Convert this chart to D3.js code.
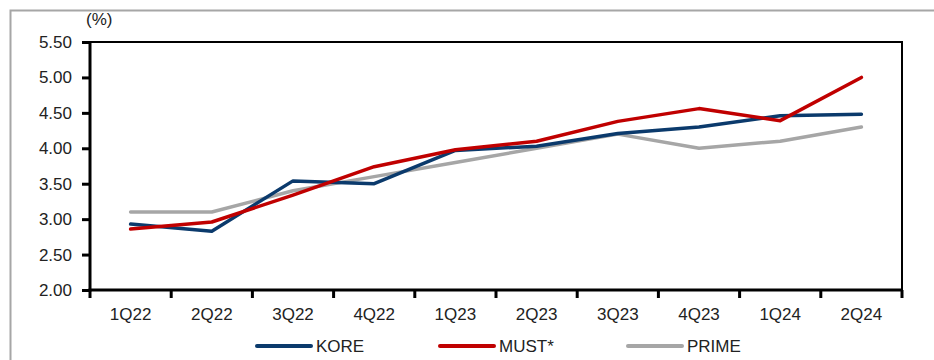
<!DOCTYPE html>
<html>
<head>
<meta charset="utf-8">
<script src="https://cdn.jsdelivr.net/npm/d3@7"></script>
<style>
  body { margin: 0; background: #fff; }
  svg text { font-family: "Liberation Sans", Arial, sans-serif; font-size: 17px; fill: #222; }
</style>
</head>
<body>
<div class="chart"></div>
<script>
const w = 934;
const h = 360;

const quarters = ['1Q22', '2Q22', '3Q22', '4Q22', '1Q23', '2Q23', '3Q23', '4Q23', '1Q24', '2Q24'];
const kore = [2.93, 2.83, 3.54, 3.50, 3.97, 4.03, 4.21, 4.30, 4.46, 4.48];
const must = [2.86, 2.96, 3.34, 3.74, 3.98, 4.10, 4.38, 4.56, 4.39, 5.00];
const prime = [3.10, 3.10, 3.40, 3.60, 3.80, 4.00, 4.20, 4.00, 4.10, 4.30];
const yTicks = [2.0, 2.5, 3.0, 3.5, 4.0, 4.5, 5.0, 5.5];
const seriesNames = ['KORE', 'MUST*', 'PRIME'];
const seriesColors = ['#0b3a6c', '#c00000', '#a6a6a6'];

const pLeft = 90, pRight = 902, pTop = 42, pBottom = 290;

const svg = d3.select('.chart')
  .append('svg')
  .attr('width', w)
  .attr('height', h);

// outer gray frame
svg.append('rect')
  .attr('x', 10.5).attr('y', 10.5)
  .attr('width', 1000).attr('height', 1000)
  .attr('fill', 'none')
  .attr('stroke', '#a6a6a6')
  .attr('stroke-width', 2);

const xScale = d3.scaleBand().domain(quarters).range([pLeft, pRight]);
const yScale = d3.scaleLinear().domain([2, 5.5]).range([pBottom, pTop]);

// plot border top + right
svg.append('path')
  .attr('d', `M${pLeft},${pTop}H${pRight}V${pBottom}`)
  .attr('fill', 'none')
  .attr('stroke', '#000')
  .attr('stroke-width', 2);

// y axis
const yAxis = d3.axisLeft(yScale)
  .tickValues(yTicks)
  .tickFormat(d3.format('.2f'))
  .tickSize(8)
  .tickPadding(10);
const gy = svg.append('g')
  .attr('transform', `translate(${pLeft},0)`)
  .call(yAxis);
gy.select('.domain').attr('stroke-width', 3).attr('d', `M0,${pTop}V${pBottom + 1.5}`);
gy.selectAll('.tick line').attr('stroke-width', 3);
gy.selectAll('text').attr('font-size', null).attr('font-family', null).attr('fill', null);

// x axis, ticks at band edges
const xAxis = d3.axisBottom(xScale).tickSize(0).tickPadding(18);
const gx = svg.append('g')
  .attr('transform', `translate(0,${pBottom})`)
  .call(xAxis);
gx.select('.domain').attr('stroke-width', 3).attr('d', `M${pLeft - 1.5},0H${pRight}`);
gx.selectAll('text').attr('font-size', null).attr('font-family', null).attr('fill', null);
const edges = quarters.map(q => xScale(q)).concat([pRight]);
gx.selectAll('.edge')
  .data(edges)
  .enter()
  .append('line')
  .attr('x1', d => d).attr('x2', d => d)
  .attr('y1', 0).attr('y2', 8)
  .attr('stroke', '#000')
  .attr('stroke-width', 3);

svg.append('text')
  .attr('x', 86).attr('y', 25)
  .text('(%)');

// lines
const line = d3.line()
  .x((d, i) => xScale(quarters[i]) + xScale.bandwidth() / 2)
  .y(d => yScale(d));

[prime, kore, must].forEach((s, k) => {
  const idx = [2, 0, 1][k];
  svg.append('path')
    .datum(s)
    .attr('d', line)
    .attr('fill', 'none')
    .attr('stroke', seriesColors[idx])
    .attr('stroke-width', 3.5)
    .attr('stroke-linejoin', 'round')
    .attr('stroke-linecap', 'round');
});

// legend
const legendX = [257, 440, 628];
const lg = svg.selectAll('.legend')
  .data(seriesNames)
  .enter()
  .append('g')
  .attr('transform', (d, i) => `translate(${legendX[i]},346)`);
lg.append('line')
  .attr('x1', 0).attr('x2', 54)
  .attr('stroke', (d, i) => seriesColors[i])
  .attr('stroke-width', 4)
  .attr('stroke-linecap', 'round');
lg.append('text')
  .attr('x', 59).attr('y', 6)
  .text(d => d);
</script>
</body>
</html>
